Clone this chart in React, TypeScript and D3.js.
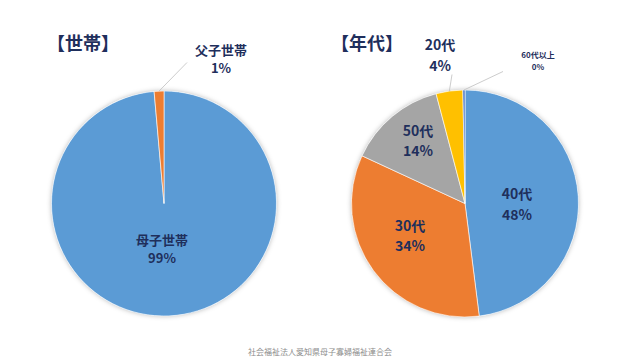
import * as d3 from "d3";

// data
const houseNames = ["母子世帯", "父子世帯"];
const houseValues = [98.6, 1.4];
const houseColors = ["#5B9BD5", "#ED7D31"];

const ageNames = ["40代", "30代", "50代", "20代", "60代以上"];
const ageValues = [48.0, 33.9, 14.0, 3.8, 0.3];
const ageColors = ["#5B9BD5", "#ED7D31", "#A5A5A5", "#FFC000", "#4472C4"];

const FOOTER = "社会福祉法人愛知県母子寡婦福祉連合会";
const NAVY = "#1F2F5C";
const FONT = "'Noto Sans CJK JP', 'Noto Sans', sans-serif";

// label placement, offset of the label block centre from the pie centre
type LabelSpot = {
  dx: number;
  dy: number;
  size: number;
  lineEnd?: [number, number]; // leader end, relative to label centre
};

const houseSpots: LabelSpot[] = [
  { dx: -2, dy: 45, size: 13 },
  { dx: 57, dy: -145, size: 13, lineEnd: [-34, 4] },
];

const ageSpots: LabelSpot[] = [
  { dx: 52, dy: 0, size: 14 },
  { dx: -55, dy: 31.5, size: 14 },
  { dx: -47, dy: -63.5, size: 14 },
  { dx: -25, dy: -149, size: 14, lineEnd: [12, 20] },
  { dx: 73, dy: -143, size: 8, lineEnd: [-35, 11] },
];

type PieProps = {
  cx: number;
  cy: number;
  radius: number;
  names: string[];
  values: number[];
  colors: string[];
  spots: LabelSpot[];
};

const Pie = ({ cx, cy, radius, names, values, colors, spots }: PieProps) => {
  const pie = d3.pie<number>().sort(null).value((d) => d);
  const arcs = pie(values);
  const arcGen = d3.arc<d3.PieArcDatum<number>>().innerRadius(0).outerRadius(radius);
  const total = d3.sum(values);

  const slices = arcs.map((a, i) => (
    <path key={i} d={arcGen(a) || ""} fill={colors[i]} stroke="#fff" strokeWidth={0.6} />
  ));

  const labels = arcs.map((a, i) => {
    const s = spots[i];
    const mid = (a.startAngle + a.endAngle) / 2;
    const pct = Math.round((values[i] / total) * 100) + "%";
    const gap = s.size * 1.45;
    let leader = null;
    if (s.lineEnd) {
      const px = Math.sin(mid) * radius;
      const py = -Math.cos(mid) * radius;
      leader = (
        <line
          x1={px}
          y1={py}
          x2={s.dx + s.lineEnd[0]}
          y2={s.dy + s.lineEnd[1]}
          stroke="#BFBFBF"
          strokeWidth={0.8}
        />
      );
    }
    return (
      <g key={i}>
        {leader}
        <text
          x={s.dx}
          y={s.dy - gap / 2}
          textAnchor="middle"
          dominantBaseline="central"
          fontSize={s.size}
          fontWeight={700}
          fill={NAVY}
        >
          {names[i]}
        </text>
        <text
          x={s.dx}
          y={s.dy + gap / 2}
          textAnchor="middle"
          dominantBaseline="central"
          fontSize={s.size}
          fontWeight={700}
          fill={NAVY}
        >
          {pct}
        </text>
      </g>
    );
  });

  return (
    <g transform={`translate(${cx},${cy})`}>
      <circle r={radius} fill="#fff" filter="url(#glow)" />
      {slices}
      {labels}
    </g>
  );
};

export default function App() {
  return (
    <svg
      width={640}
      height={360}
      style={{ position: "absolute", left: 0, top: 0, background: "#fff" }}
      fontFamily={FONT}
    >
      <defs>
        <filter id="glow" x="-20%" y="-20%" width="140%" height="140%">
          <feDropShadow dx={0} dy={0} stdDeviation={2.5} floodColor="#000" floodOpacity={0.3} />
        </filter>
      </defs>
      <text x={83} y={42} textAnchor="middle" dominantBaseline="central" fontSize={18} fontWeight={700} fill={NAVY}>
        【世帯】
      </text>
      <text x={367} y={42} textAnchor="middle" dominantBaseline="central" fontSize={18} fontWeight={700} fill={NAVY}>
        【年代】
      </text>
      <Pie cx={164} cy={203.5} radius={112.5} names={houseNames} values={houseValues} colors={houseColors} spots={houseSpots} />
      <Pie cx={465} cy={203.5} radius={113.5} names={ageNames} values={ageValues} colors={ageColors} spots={ageSpots} />
      <text x={320} y={351} textAnchor="middle" dominantBaseline="central" fontSize={8} fill="#8C8C8C">
        {FOOTER}
      </text>
    </svg>
  );
}
